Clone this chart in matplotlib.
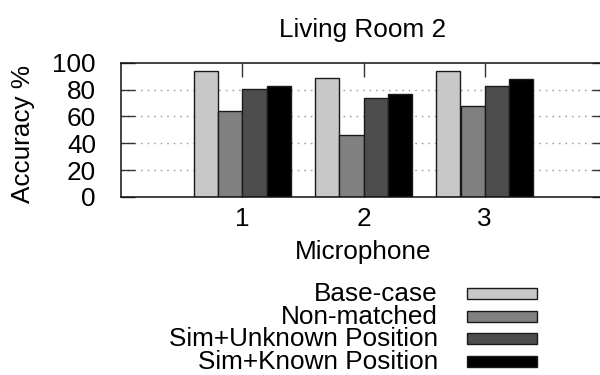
import matplotlib
matplotlib.use("Agg")
import matplotlib.pyplot as plt
from matplotlib.patches import Rectangle
import numpy as np

plt.rcParams['font.family'] = ['Liberation Sans', 'DejaVu Sans']

microphones = [1, 2, 3]
series_names = ["Base-case", "Non-matched", "Sim+Unknown Position", "Sim+Known Position"]
base_case = [93.8, 88.3, 93.8]
non_matched = [64.2, 46.0, 67.4]
sim_unknown = [80.4, 73.6, 82.6]
sim_known = [82.3, 76.9, 88.1]
y_ticks = [0, 20, 40, 60, 80, 100]

series_values = [base_case, non_matched, sim_unknown, sim_known]
fills = ["#c8c8c8", "#808080", "#4d4d4d", "#000000"]

FS = 18.8
W, H = 600, 375
fig = plt.figure(figsize=(6, 3.75), dpi=100)
ax = fig.add_axes([121 / W, 1 - 197 / H, (606 - 121) / W, (197 - 62.7) / H])

bar_w = 0.2
x = np.array(microphones, dtype=float)
for i, (vals, col) in enumerate(zip(series_values, fills)):
    offs = (i - 1.5) * bar_w
    ax.bar(x + offs, vals, width=bar_w, color=col, edgecolor="#1a1a1a",
           linewidth=1.0, zorder=3)

ax.set_xlim(0, 4)
ax.set_ylim(0, 100)
ax.set_xticks(microphones)
ax.set_xticklabels([str(m) for m in microphones])
ax.set_yticks(y_ticks)
ax.set_yticklabels([str(t) for t in y_ticks])

for yv in y_ticks[1:-1]:
    ax.axhline(yv, color="#a0a0a0", linewidth=1.0, linestyle=(0, (1.2, 3.5)), zorder=1)

ax.tick_params(axis="both", direction="in", length=10, width=1.0, color="#333333",
               labelsize=FS, top=True, right=True, zorder=4)
ax.tick_params(axis="y", pad=18)
ax.tick_params(axis="x", pad=7)
for s in ax.spines.values():
    s.set_linewidth(1.1)
    s.set_color("#111111")
    s.set_zorder(5)

ax.set_xlabel("Microphone", fontsize=FS, labelpad=7)
fig.text(23 / W, 1 - 134 / H, "Accuracy %", fontsize=FS, rotation=90,
         ha="center", va="center")
fig.text(362.5 / W, 1 - 37 / H, "Living Room 2", fontsize=FS, ha="center",
         va="baseline")

# legend: labels right-aligned, swatches on the right
rows_y = [294, 317, 339, 362]
for name, col, yy in zip(series_names, fills, rows_y):
    fig.text(438 / W, 1 - yy / H, name, fontsize=FS, ha="right", va="center")
    fig.add_artist(Rectangle((467 / W, 1 - (yy - 0.5 + 5.5) / H), 70 / W, 11 / H,
                             transform=fig.transFigure, facecolor=col,
                             edgecolor="#1a1a1a", linewidth=1.0))

fig.savefig("out.png", dpi=100)
